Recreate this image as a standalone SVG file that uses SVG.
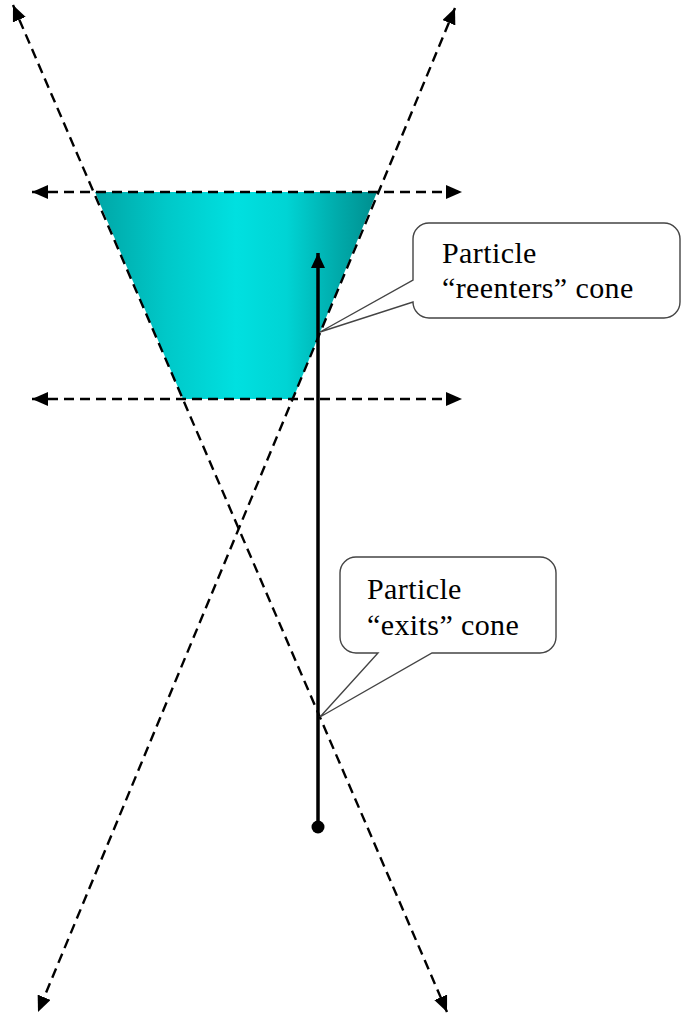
<svg xmlns="http://www.w3.org/2000/svg" width="683" height="1015" viewBox="0 0 683 1015">
  <style>
    .dash { stroke: #000; stroke-width: 2.4; stroke-dasharray: 10 6; fill: none; marker-end: url(#ah); marker-start: url(#ah); }
    .callout { fill: #fff; stroke: #444; stroke-width: 1.4; }
    .lbl { font-family: "Liberation Serif", "Times New Roman", serif; font-size: 30px; fill: #000; letter-spacing: 0.4px; }
  </style>
  <defs>
    <marker id="ah" markerUnits="userSpaceOnUse" markerWidth="16" markerHeight="14" viewBox="0 0 16 14" refX="16" refY="7" orient="auto-start-reverse">
      <path d="M0,0 L16,7 L0,14 Z" fill="#000"/>
    </marker>
    <marker id="ah2" markerUnits="userSpaceOnUse" markerWidth="15" markerHeight="14" viewBox="0 0 15 14" refX="15" refY="7" orient="auto">
      <path d="M0,0 L15,7 L0,14 Z" fill="#000"/>
    </marker>
    <linearGradient id="cyan" gradientUnits="userSpaceOnUse" x1="95" y1="0" x2="377" y2="0">
      <stop offset="0" stop-color="#00a6a6"/>
      <stop offset="0.25" stop-color="#00c8c8"/>
      <stop offset="0.5" stop-color="#00e0e0"/>
      <stop offset="0.68" stop-color="#00d4d4"/>
      <stop offset="0.85" stop-color="#00adad"/>
      <stop offset="1" stop-color="#008e8e"/>
    </linearGradient>
  </defs>

  <g id="cone">
    <polygon points="95,192 377,192 293,399 183,399" fill="url(#cyan)"/>
  </g>

  <g id="connectors">
    <line class="dash" x1="13" y1="5" x2="447" y2="1012"/>
    <line class="dash" x1="455" y1="8" x2="38" y2="1012"/>
    <line class="dash" x1="32" y1="192" x2="462" y2="192"/>
    <line class="dash" x1="32" y1="399" x2="462" y2="399"/>
    <line x1="318" y1="827" x2="318" y2="253" stroke="#000" stroke-width="3.5" marker-end="url(#ah2)"/>
    <circle cx="318" cy="827" r="6.5" fill="#000"/>
  </g>

  <g id="callout-reenters">
    <path class="callout" d="M429,223 H664 A16,16 0 0 1 680,239 V302 A16,16 0 0 1 664,318 H429 A16,16 0 0 1 413,302 L320,332 L413,280 V239 A16,16 0 0 1 429,223 Z"/>
    <text class="lbl" x="442" y="263">Particle</text>
    <text class="lbl" x="442" y="298">“reenters” cone</text>
  </g>

  <g id="callout-exits">
    <path class="callout" d="M356,557 H540 A16,16 0 0 1 556,573 V637 A16,16 0 0 1 540,653 H432 L320,717 L378,653 H356 A16,16 0 0 1 340,637 V573 A16,16 0 0 1 356,557 Z"/>
    <text class="lbl" x="367" y="599">Particle</text>
    <text class="lbl" x="367" y="635">“exits” cone</text>
  </g>
</svg>
